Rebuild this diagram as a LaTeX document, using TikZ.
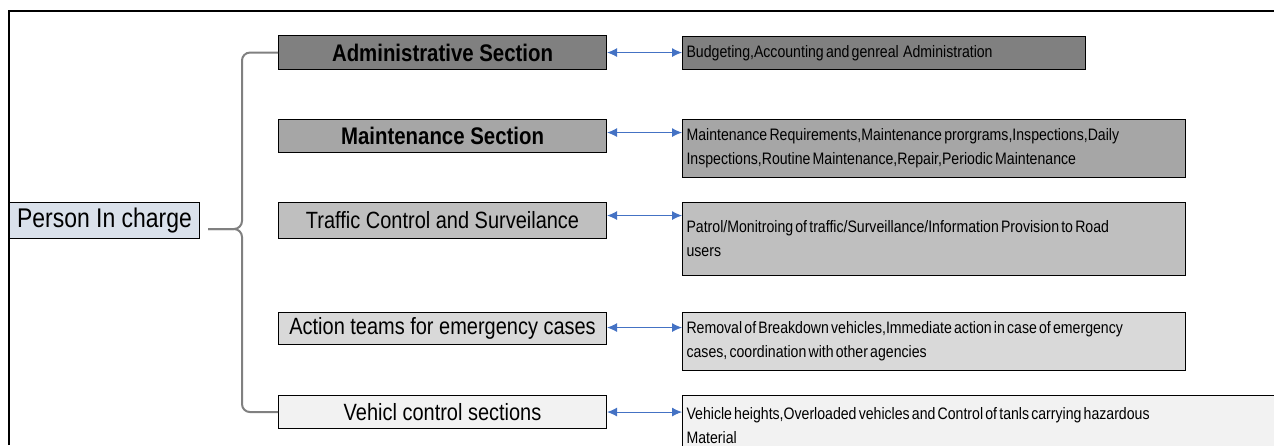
\documentclass[tikz,border=0pt]{standalone}
\usepackage{fontspec}
\setmainfont{Liberation Sans}[FakeStretch=0.85]
\usetikzlibrary{arrows.meta, calc, positioning}

\definecolor{shadeA}{HTML}{808080}
\definecolor{shadeB}{HTML}{A6A6A6}
\definecolor{shadeC}{HTML}{BFBFBF}
\definecolor{shadeD}{HTML}{D9D9D9}
\definecolor{shadeE}{HTML}{F2F2F2}
\definecolor{personfill}{HTML}{DAE1EB}
\definecolor{linkblue}{HTML}{4472C4}
\definecolor{bracegray}{HTML}{808080}

\newcommand\tightspace{\spaceskip=2.2pt plus 0.5pt\relax}

\begin{document}
\begin{tikzpicture}[x=1pt,y=-1pt,
    sec/.style={draw,line width=1.1pt,minimum width=328pt,inner sep=0pt,anchor=north west,
        font=\fontsize{23.5}{26}\selectfont},
    desc/.style={draw,line width=1.1pt,anchor=north west,inner xsep=4pt,inner ysep=0pt,
        align=left,text width=495pt,font=\fontsize{16.6}{24}\selectfont,
        execute at begin node=\tightspace},
    link/.style={{Latex[length=10pt,width=9pt]}-{Latex[length=10pt,width=9pt]},line width=0.9pt,linkblue},
    brace/.style={draw=bracegray,line width=2pt,rounded corners=8pt}]
    \clip (0,0) rectangle (1274,445);

    % frame
    \draw[line width=1.3pt] (9,445) -- (9,11) -- (1274,11);

    % person in charge
    \node[draw,line width=1.1pt,fill=personfill,minimum width=190pt,minimum height=36pt,
        inner sep=0pt,anchor=north west,font=\fontsize{27}{30}\selectfont]
        (person) at (9,202) {Person In charge};

    % sections
    \node[sec,fill=shadeA,minimum height=34pt,font=\fontsize{24}{26}\selectfont\bfseries]
        (adm) at (278,35) {Administrative Section};
    \node[sec,fill=shadeB,minimum height=33pt,font=\fontsize{24}{26}\selectfont\bfseries]
        (mnt) at (278,119) {Maintenance Section};
    \node[sec,fill=shadeC,minimum height=36pt] (trf) at (278,202) {Traffic Control and Surveilance};
    \node[sec,fill=shadeD,minimum height=32pt] (act) at (278,312) {Action teams for emergency cases};
    \node[sec,fill=shadeE,minimum height=33pt] (veh) at (278,395) {Vehicl control sections};

    % descriptions
    \node[desc,fill=shadeA,text width=395pt,minimum height=33pt] (admd) at (682,36)
        {Budgeting,Accounting and genreal~ Administration};
    \node[desc,fill=shadeB,minimum height=58pt] (mntd) at (682,119)
        {Maintenance Requirements,Maintenance prorgrams,Inspections,Daily\\
         Inspections,Routine Maintenance,Repair,Periodic Maintenance};
    \node[desc,fill=shadeC,minimum height=73pt] (trfd) at (682,202)
        {Patrol/Monitroing of traffic/Surveillance/Information Provision to Road\\users};
    \node[desc,fill=shadeD,minimum height=58pt] (actd) at (682,312)
        {Removal of Breakdown vehicles,Immediate action in case of emergency\\
         cases, coordination with other agencies};
    \node[desc,fill=shadeE,text width=642pt,minimum height=60pt] (vehd) at (682,395)
        {Vehicle heights,Overloaded vehicles and Control of tanls carrying hazardous\\Material};

    % brace
    \coordinate (bt) at (208,229);
    \draw[brace] (bt) -| ($(adm.west)+(-36,0)$) -- (adm.west);
    \draw[brace] (bt) -| ($(veh.west)+(-36,0)$) -- (veh.west);

    % links
    \coordinate (la) at (adm.east);
    \coordinate (lb) at ([yshift=3.5pt]mnt.east);
    \coordinate (lc) at ([yshift=5pt]trf.east);
    \coordinate (ld) at ([yshift=1pt]act.east);
    \coordinate (le) at (veh.east);
    \draw[link] (la) -- (la -| admd.west);
    \draw[link] (lb) -- (lb -| mntd.west);
    \draw[link] (lc) -- (lc -| trfd.west);
    \draw[link] (ld) -- (ld -| actd.west);
    \draw[link] (le) -- (le -| vehd.west);
\end{tikzpicture}
\end{document}
